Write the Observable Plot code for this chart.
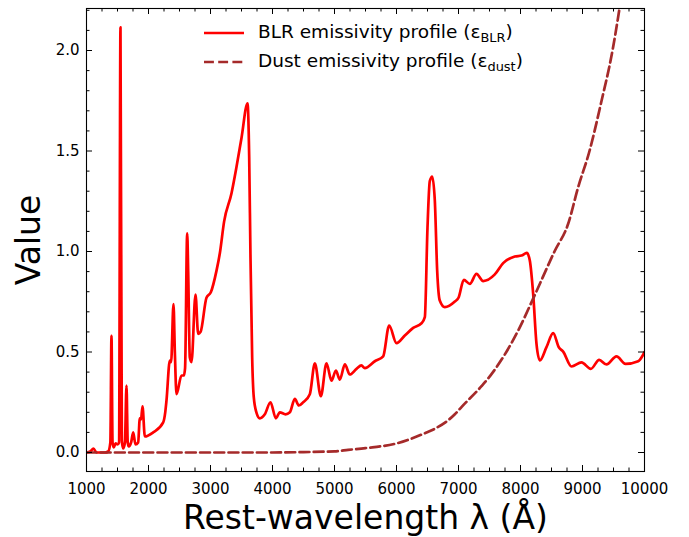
<!DOCTYPE html>
<html><head><meta charset="utf-8">
<script src="https://cdn.jsdelivr.net/npm/d3@7"></script>
<script src="https://cdn.jsdelivr.net/npm/@observablehq/plot@0.6"></script>
<style>
body{margin:0;background:#fff;}
#wrap{position:relative;width:689px;height:537px;font-family:"DejaVu Sans",sans-serif;}
.lg{position:absolute;left:203px;height:24px;line-height:24px;font-size:18.5px;display:flex;align-items:center;white-space:nowrap;color:#000;}
.lg svg{margin-right:13px;}
.sub{font-size:0.7em;position:relative;top:0.3em;}
</style></head><body><div id="wrap"></div>
<script>
// BLR emissivity profile
const blrWave = [1000,1060,1113,1160,1300,1350,1385,1403,1420,1440,1470,1500,1525,1548,1570,1590,1620,1645,1665,1683,1720,1753,1790,1833,1860,1880,1903,1941,2075,2237,2270,2290,2344,2365,2403,2425,2452,2532,2570,2590,2624,2640,2666,2694,2758,2801,2840,2935,3005,3097,3150,3220,3339,3419,3500,3597,3624,3645,3672,3698,3740,3796,3876,3968,4054,4118,4210,4280,4360,4425,4495,4602,4683,4780,4871,4952,5022,5086,5167,5247,5355,5435,5489,5650,5785,5882,6000,6134,6269,6403,6457,6500,6537,6576,6618,6656,6698,6779,6941,7000,7086,7183,7290,7398,7586,7720,7908,8016,8102,8150,8204,8258,8312,8419,8527,8618,8688,8823,8984,9134,9269,9387,9548,9694,9898,10000];
const blrValue = [0.0,0.005,0.02,0.0,0.0,0.005,0.05,0.58,0.05,0.025,0.045,0.04,0.05,2.115,0.06,0.02,0.05,0.333,0.05,0.03,0.05,0.10,0.04,0.05,0.17,0.165,0.23,0.08,0.10,0.15,0.2,0.258,0.457,0.45,0.738,0.5,0.29,0.383,0.383,0.42,1.09,0.9,0.474,0.45,0.786,0.59,0.6,0.77,0.797,0.905,0.99,1.15,1.29,1.42,1.565,1.737,1.47,0.97,0.474,0.275,0.2,0.17,0.19,0.25,0.17,0.20,0.19,0.20,0.267,0.234,0.25,0.29,0.444,0.28,0.444,0.358,0.408,0.363,0.438,0.388,0.416,0.433,0.42,0.454,0.478,0.632,0.544,0.582,0.62,0.643,0.673,1.12,1.35,1.373,1.254,0.905,0.756,0.723,0.751,0.77,0.859,0.839,0.889,0.853,0.886,0.942,0.975,0.98,0.993,0.955,0.79,0.54,0.458,0.524,0.594,0.524,0.502,0.428,0.448,0.416,0.461,0.438,0.478,0.441,0.454,0.499];
// Dust emissivity profile
const dustWave = [1000,3000,4000,4500,5000,5220,5500,6000,6457,6618,6941,7048,7371,7532,7963,8215,8548,8769,8930,9113,9300,9484,9597,9800,10000];
const dustValue = [0,0,0,0.002,0.006,0.013,0.022,0.045,0.096,0.118,0.19,0.226,0.33,0.39,0.607,0.773,1.0,1.138,1.32,1.5,1.74,2.0,2.21,2.66,3.15];
// Ticks
const xMajor = [1000,2000,3000,4000,5000,6000,7000,8000,9000,10000];
const xMinor = d3.range(1000, 10001, 250).filter(v => v % 1000 !== 0);
const yMajor = [0,0.5,1.0,1.5,2.0];
const yMinor = [0.1,0.2,0.3,0.4,0.6,0.7,0.8,0.9,1.1,1.2,1.3,1.4,1.6,1.7,1.8,1.9,2.1,2.2];
const xLabel = "Rest-wavelength λ (Å)";
const yLabel = "Value";
const series = ["BLR emissivity profile (ε", "Dust emissivity profile (ε"];
const subs = ["BLR", "dust"];

const blr = blrWave.map((w,i)=>({x:w,y:blrValue[i]}));
const dust = dustWave.map((w,i)=>({x:w,y:dustValue[i]}));

const W = 689, H = 537, mL = 86, mR = 45, mT = 8, mB = 66;
const pw = W - mL - mR, ph = H - mT - mB;

const plot = Plot.plot({
  width: W, height: H,
  marginLeft: mL, marginRight: mR, marginTop: mT, marginBottom: mB,
  style: {fontFamily: "DejaVu Sans", fontSize: "15px", background: "white", color: "black"},
  x: {domain: [1000, 10000]},
  y: {domain: [-0.0945, 2.209]},
  marks: [
    Plot.line(blr, {x: "x", y: "y", stroke: "red", strokeWidth: 2.7, curve: "monotone-x", clip: true}),
    Plot.line(dust, {x: "x", y: "y", stroke: "brown", strokeWidth: 2.7, strokeDasharray: "9.9,4.3", curve: "monotone-x", clip: true}),
    Plot.ruleX(xMajor, {x: d => d, insetTop: ph - 6, stroke: "black"}),
    Plot.ruleX(xMajor, {x: d => d, insetBottom: ph - 6, stroke: "black"}),
    Plot.ruleX(xMinor, {x: d => d, insetTop: ph - 3.5, stroke: "black"}),
    Plot.ruleX(xMinor, {x: d => d, insetBottom: ph - 3.5, stroke: "black"}),
    Plot.ruleY(yMajor, {y: d => d, insetRight: pw - 6, stroke: "black"}),
    Plot.ruleY(yMajor, {y: d => d, insetLeft: pw - 6, stroke: "black"}),
    Plot.ruleY(yMinor, {y: d => d, insetRight: pw - 3.5, stroke: "black"}),
    Plot.ruleY(yMinor, {y: d => d, insetLeft: pw - 3.5, stroke: "black"}),
    Plot.frame({stroke: "black", strokeWidth: 1.1}),
    Plot.axisX(xMajor, {tickSize: 0, tickPadding: 12, tickFormat: d => String(d), label: null, fontSize: 15}),
    Plot.axisY(yMajor, {tickSize: 0, tickPadding: 7, tickFormat: d3.format(".1f"), label: null, fontSize: 15}),
    Plot.text([xLabel], {text: d => d, frameAnchor: "bottom", textAnchor: "middle", lineAnchor: "middle", dy: 47, fontSize: 33})
    ,Plot.text([yLabel], {text: d => d, frameAnchor: "left", textAnchor: "middle", lineAnchor: "middle", dx: -57, rotate: -90, fontSize: 33})
  ]
});
const wrap = document.getElementById("wrap");
wrap.appendChild(plot);

const styles = [{stroke: "red", dash: null}, {stroke: "brown", dash: "9.9,4.3"}];
const tops = [21, 50];
series.forEach((s, i) => {
  const row = document.createElement("div");
  row.className = "lg";
  row.style.top = tops[i] + "px";
  row.innerHTML = `<svg width="42" height="10"><line x1="1" y1="5" x2="41" y2="5" stroke="${styles[i].stroke}" stroke-width="2.7" ${styles[i].dash ? `stroke-dasharray="${styles[i].dash}"` : ""}/></svg><span>${s}<span class="sub">${subs[i]}</span>)</span>`;
  wrap.appendChild(row);
});
</script>
</body></html>
